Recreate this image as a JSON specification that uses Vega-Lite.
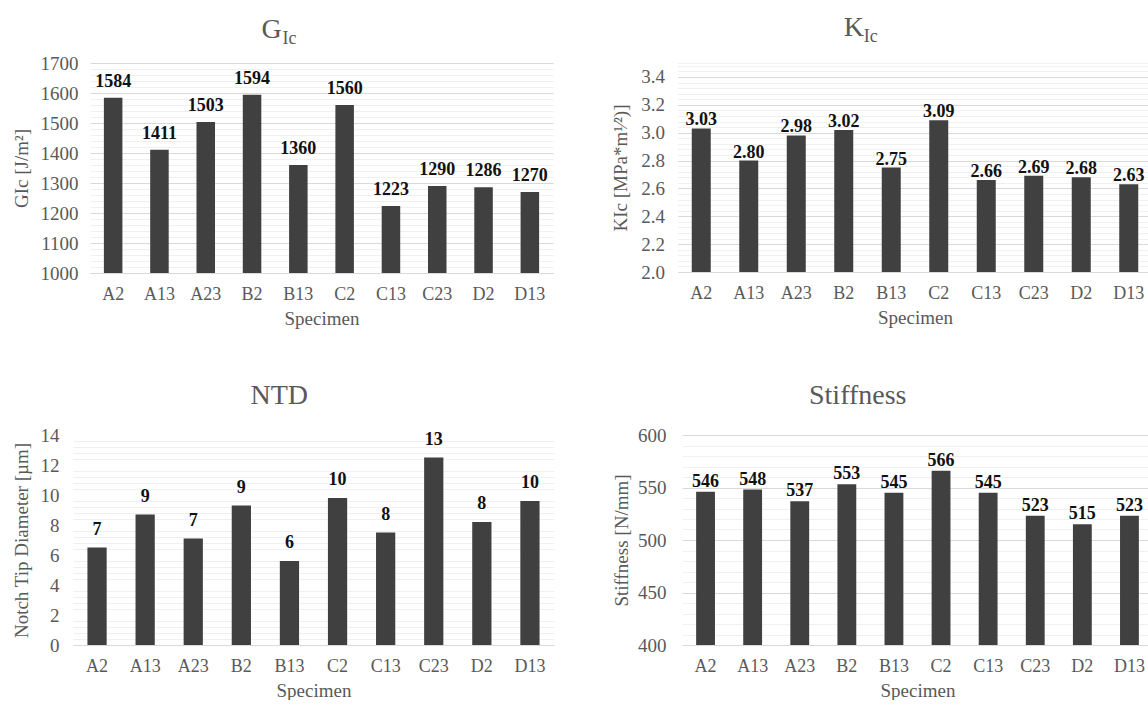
{
  "$schema": "https://vega.github.io/schema/vega-lite/v6.json",
  "background": "white",
  "padding": {"left": 11, "top": 14, "right": 0, "bottom": 0},
  "datasets": {
    "specimens": [
      {"Specimen": "A2", "GIc": 1584, "KIc": 3.03, "NTD": 6.5, "Stiffness": 546},
      {"Specimen": "A13", "GIc": 1411, "KIc": 2.80, "NTD": 8.7, "Stiffness": 548},
      {"Specimen": "A23", "GIc": 1503, "KIc": 2.98, "NTD": 7.1, "Stiffness": 537},
      {"Specimen": "B2", "GIc": 1594, "KIc": 3.02, "NTD": 9.3, "Stiffness": 553},
      {"Specimen": "B13", "GIc": 1360, "KIc": 2.75, "NTD": 5.6, "Stiffness": 545},
      {"Specimen": "C2", "GIc": 1560, "KIc": 3.09, "NTD": 9.8, "Stiffness": 566},
      {"Specimen": "C13", "GIc": 1223, "KIc": 2.66, "NTD": 7.5, "Stiffness": 545},
      {"Specimen": "C23", "GIc": 1290, "KIc": 2.69, "NTD": 12.5, "Stiffness": 523},
      {"Specimen": "D2", "GIc": 1286, "KIc": 2.68, "NTD": 8.2, "Stiffness": 515},
      {"Specimen": "D13", "GIc": 1270, "KIc": 2.63, "NTD": 9.6, "Stiffness": 523}
    ]
  },
  "spacing": 54,
  "vconcat": [
    {
      "spacing": 0,
      "hconcat": [
        {"width": 1, "height": 1, "data": {"values": []}, "mark": "point"},
        {
          "spacing": 57.5,
          "hconcat": [
            {
              "width": 463,
              "height": 210,
              "data": {"name": "specimens"},
              "title": {
                "text": "G",
                "subtitle": "Ic",
                "offset": 6,
                "encode": {
                  "title": {"update": {"dx": {"value": -11}}},
                  "subtitle": {"update": {"dx": {"value": 7}}}
                }
              },
              "encoding": {
                "x": {
                  "field": "Specimen", "type": "nominal", "sort": null,
                  "scale": {"paddingInner": 0.6, "paddingOuter": 0.3},
                  "axis": {"title": "Specimen"}
                },
                "y": {
                  "field": "GIc", "type": "quantitative",
                  "scale": {"domain": [1000, 1700], "nice": false, "zero": false},
                  "axis": {
                    "title": "GIc [J/m²]",
                    "values": [1000, 1020, 1040, 1060, 1080, 1100, 1120, 1140, 1160, 1180, 1200, 1220, 1240, 1260, 1280, 1300, 1320, 1340, 1360, 1380, 1400, 1420, 1440, 1460, 1480, 1500, 1520, 1540, 1560, 1580, 1600, 1620, 1640, 1660, 1680, 1700],
                    "format": "d",
                    "labelExpr": "datum.value % 100 === 0 ? datum.label : ''",
                    "gridColor": {"condition": {"test": "datum.value % 100 === 0", "value": "#d9d9d9"}, "value": "#f0f0f0"},
                    "labelPadding": 12, "minExtent": 48, "maxExtent": 48, "titlePadding": 11
                  }
                }
              },
              "layer": [
                {"mark": {"type": "bar", "color": "#404040", "clip": true}},
                {
                  "mark": {"type": "text", "baseline": "alphabetic", "dy": -11, "fontSize": 18, "fontWeight": "bold", "color": "#111111"},
                  "encoding": {"text": {"field": "GIc", "type": "quantitative", "format": "d"}}
                }
              ]
            },
            {
              "width": 475,
              "height": 209,
              "data": {"name": "specimens"},
              "title": {
                "text": "K",
                "subtitle": "Ic",
                "offset": 8,
                "encode": {
                  "title": {"update": {"dx": {"value": -28}}},
                  "subtitle": {"update": {"dx": {"value": -11}}}
                }
              },
              "encoding": {
                "x": {
                  "field": "Specimen", "type": "nominal", "sort": null,
                  "scale": {"paddingInner": 0.6, "paddingOuter": 0.3},
                  "axis": {"title": "Specimen"}
                },
                "y": {
                  "field": "KIc", "type": "quantitative",
                  "scale": {"domain": [2.0, 3.5], "nice": false, "zero": false},
                  "axis": {
                    "title": "KIc [MPa*m¹⁄²)]",
                    "values": [2, 2.04, 2.08, 2.12, 2.16, 2.2, 2.24, 2.28, 2.32, 2.36, 2.4, 2.44, 2.48, 2.52, 2.56, 2.6, 2.64, 2.68, 2.72, 2.76, 2.8, 2.84, 2.88, 2.92, 2.96, 3, 3.04, 3.08, 3.12, 3.16, 3.2, 3.24, 3.28, 3.32, 3.36, 3.4, 3.44, 3.48, 3.5],
                    "format": ".1f",
                    "labelExpr": "abs(datum.value * 5 - round(datum.value * 5)) < 0.001 ? datum.label : ''",
                    "gridColor": {"condition": {"test": "abs(datum.value * 5 - round(datum.value * 5)) < 0.001", "value": "#d9d9d9"}, "value": "#f0f0f0"},
                    "labelPadding": 13, "minExtent": 36, "maxExtent": 36, "titlePadding": 11.5
                  }
                }
              },
              "layer": [
                {"mark": {"type": "bar", "color": "#404040", "clip": true}},
                {
                  "mark": {"type": "text", "baseline": "alphabetic", "dy": -3, "fontSize": 18, "fontWeight": "bold", "color": "#111111"},
                  "encoding": {"text": {"field": "KIc", "type": "quantitative", "format": ".2f"}}
                }
              ]
            }
          ]
        }
      ]
    },
    {
      "spacing": 0,
      "hconcat": [
        {"width": 1, "height": 1, "data": {"values": []}, "mark": "point"},
        {
          "spacing": 58,
          "hconcat": [
            {
              "width": 481,
              "height": 210,
              "data": {"name": "specimens"},
              "title": {"text": "NTD", "dx": -4, "offset": 16},
              "encoding": {
                "x": {
                  "field": "Specimen", "type": "nominal", "sort": null,
                  "scale": {"paddingInner": 0.6, "paddingOuter": 0.3},
                  "axis": {"title": "Specimen"}
                }
              },
              "layer": [
                {
                  "mark": {"type": "bar", "color": "#404040", "clip": true},
                  "encoding": {
                    "y": {
                      "field": "NTD", "type": "quantitative",
                      "scale": {"domain": [0, 14], "nice": false},
                      "axis": {
                        "orient": "left",
                        "title": null,
                        "labels": false,
                        "values": [0.4, 0.8, 1.2, 1.6, 2.4, 2.8, 3.2, 3.6, 4.4, 4.8, 5.2, 5.6, 6.4, 6.8, 7.2, 7.6, 8.4, 8.8, 9.2, 9.6, 10.4, 10.8, 11.2, 11.6, 12.4, 12.8, 13.2, 13.6],
                        "gridColor": "#f0f0f0",
                        "minExtent": 0, "maxExtent": 0, "labelPadding": 0, "titlePadding": 0
                      }
                    }
                  }
                },
                {
                  "mark": {"type": "text", "baseline": "alphabetic", "dy": -13, "fontSize": 18, "fontWeight": "bold", "color": "#111111"},
                  "encoding": {
                    "y": {
                      "field": "NTD", "type": "quantitative",
                      "scale": {"domain": [0, 14], "nice": false},
                      "axis": {
                        "orient": "left",
                        "title": "Notch Tip Diameter [µm]",
                        "values": [0, 2, 4, 6, 8, 10, 12, 14],
                        "format": "d",
                        "gridColor": "#d9d9d9",
                        "labelPadding": 14, "minExtent": 32, "maxExtent": 32, "titlePadding": 9.5
                      }
                    },
                    "text": {"field": "NTD", "type": "quantitative", "format": ".0f"}
                  }
                }
              ],
              "resolve": {"axis": {"y": "independent"}}
            },
            {
              "width": 471,
              "height": 210,
              "data": {"name": "specimens"},
              "title": {"text": "Stiffness", "dx": -25, "offset": 16},
              "encoding": {
                "x": {
                  "field": "Specimen", "type": "nominal", "sort": null,
                  "scale": {"paddingInner": 0.6, "paddingOuter": 0.3},
                  "axis": {"title": "Specimen"}
                },
                "y": {
                  "field": "Stiffness", "type": "quantitative",
                  "scale": {"domain": [400, 600], "nice": false, "zero": false},
                  "axis": {
                    "title": "Stiffness [N/mm]",
                    "values": [400, 410, 420, 430, 440, 450, 460, 470, 480, 490, 500, 510, 520, 530, 540, 550, 560, 570, 580, 590, 600],
                    "format": "d",
                    "labelExpr": "datum.value % 50 === 0 ? datum.label : ''",
                    "gridColor": {"condition": {"test": "datum.value % 50 === 0", "value": "#d9d9d9"}, "value": "#f0f0f0"},
                    "labelPadding": 16, "minExtent": 43, "maxExtent": 43, "titlePadding": 7.5
                  }
                }
              },
              "layer": [
                {"mark": {"type": "bar", "color": "#404040", "clip": true}},
                {
                  "mark": {"type": "text", "baseline": "alphabetic", "dy": -5, "fontSize": 18, "fontWeight": "bold", "color": "#111111"},
                  "encoding": {"text": {"field": "Stiffness", "type": "quantitative", "format": "d"}}
                }
              ]
            }
          ]
        }
      ]
    }
  ],
  "config": {
    "font": "Liberation Serif",
    "view": {"stroke": null},
    "title": {
      "fontSize": 28,
      "fontWeight": "normal",
      "color": "#595959",
      "subtitleFont": "Liberation Serif",
      "subtitleFontSize": 18,
      "subtitleColor": "#595959",
      "subtitlePadding": -14,
      "frame": "bounds",
      "anchor": "middle"
    },
    "axis": {
      "labelFont": "Liberation Serif",
      "titleFont": "Liberation Serif",
      "labelFontSize": 18,
      "titleFontSize": 19,
      "labelColor": "#595959",
      "titleColor": "#595959",
      "titleFontWeight": "normal",
      "ticks": false,
      "labelOverlap": false,
      "labelBound": false,
      "labelFlush": false
    },
    "axisX": {
      "labelAngle": 0,
      "domain": true,
      "domainColor": "#d9d9d9",
      "domainWidth": 1,
      "grid": false,
      "labelPadding": 12,
      "titlePadding": 6
    },
    "axisY": {
      "labelFontSize": 19,
      "domain": false,
      "grid": true,
      "gridWidth": 1
    }
  }
}
